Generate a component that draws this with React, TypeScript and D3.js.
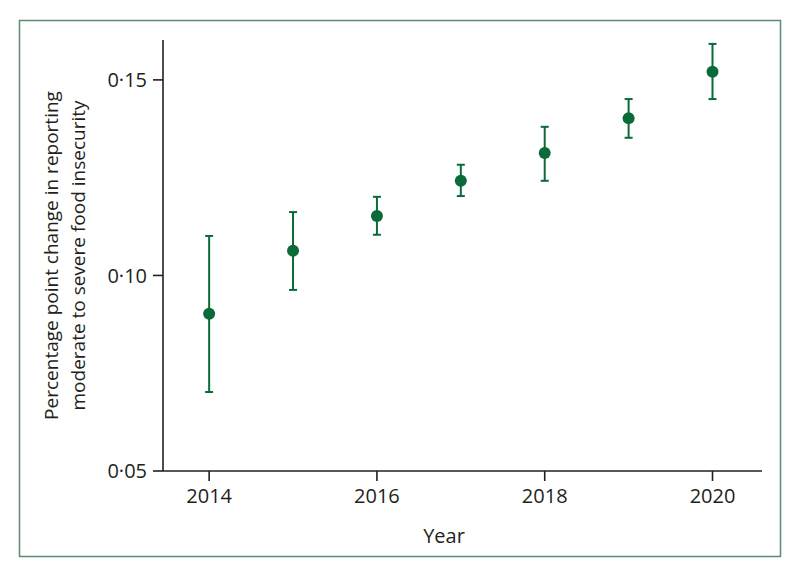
import React from "react";
import * as d3 from "d3";

const years = [2014, 2015, 2016, 2017, 2018, 2019, 2020];
const estimates = [0.0902, 0.1063, 0.1152, 0.1242, 0.1313, 0.1402, 0.1521];
const lowerCI = [0.0702, 0.0963, 0.1104, 0.1203, 0.1242, 0.1352, 0.1451];
const upperCI = [0.1101, 0.1162, 0.1201, 0.1283, 0.138, 0.1451, 0.1592];
const xTicks = [2014, 2016, 2018, 2020];
const yTicks = [0.05, 0.1, 0.15];
const yLabelLines = ["Percentage point change in reporting", "moderate to severe food insecurity"];

const W = 800, H = 578;
const GREEN = "#0a6a3a";
const INK = "#231f20";
const FONT = "'Open Sans', sans-serif";

export default function App() {
  const x = d3.scaleLinear().domain([2013.45, 2020.59]).range([163, 762]);
  const y = d3.scaleLinear().domain([0.05, 0.1602]).range([471, 40]);
  const fmt = (v: number) => d3.format(".2f")(v).replace(".", "·");
  return (
    <svg width={W} height={H} style={{ position: "absolute", left: 0, top: 0 }}>
      <rect x={0} y={0} width={W} height={H} fill="#fff" />
      <rect x={19.5} y={20.5} width={761} height={536} fill="none" stroke="#5b8c72" strokeWidth={1.5} />
      {/* axes */}
      <line x1={x.range()[0]} x2={x.range()[0]} y1={y.range()[1]} y2={y.range()[0]} stroke={INK} strokeWidth={1.6} />
      <line x1={x.range()[0]} x2={x.range()[1]} y1={y.range()[0]} y2={y.range()[0]} stroke={INK} strokeWidth={1.6} />
      {yTicks.map((t) => (
        <g key={t}>
          <line x1={x.range()[0] - 10} x2={x.range()[0]} y1={y(t)} y2={y(t)} stroke={INK} strokeWidth={1.6} />
          <text x={x.range()[0] - 16} y={y(t)} dy="0.36em" textAnchor="end" fontFamily={FONT} fontSize={20} fill={INK}>
            {fmt(t)}
          </text>
        </g>
      ))}
      {xTicks.map((t) => (
        <g key={t}>
          <line x1={x(t)} x2={x(t)} y1={y.range()[0]} y2={y.range()[0] + 10} stroke={INK} strokeWidth={1.6} />
          <text x={x(t)} y={y.range()[0] + 32} textAnchor="middle" fontFamily={FONT} fontSize={20} fill={INK}>
            {t}
          </text>
        </g>
      ))}
      <text x={444} y={543} textAnchor="middle" fontFamily={FONT} fontSize={20} fill={INK}>Year</text>
      {yLabelLines.map((l, i) => (
        <text key={i} transform={`translate(${58 + i * 27},255.5) rotate(-90)`} textAnchor="middle" fontFamily={FONT} fontSize={19} fill={INK}>
          {l}
        </text>
      ))}
      {/* error bars */}
      {years.map((yr, i) => (
        <g key={yr}>
          <line x1={x(yr)} x2={x(yr)} y1={y(lowerCI[i])} y2={y(upperCI[i])} stroke={GREEN} strokeWidth={2} />
          <line x1={x(yr) - 4} x2={x(yr) + 4} y1={y(lowerCI[i])} y2={y(lowerCI[i])} stroke={GREEN} strokeWidth={2} />
          <line x1={x(yr) - 4} x2={x(yr) + 4} y1={y(upperCI[i])} y2={y(upperCI[i])} stroke={GREEN} strokeWidth={2} />
          <circle cx={x(yr)} cy={y(estimates[i])} r={6} fill={GREEN} />
        </g>
      ))}
    </svg>
  );
}
